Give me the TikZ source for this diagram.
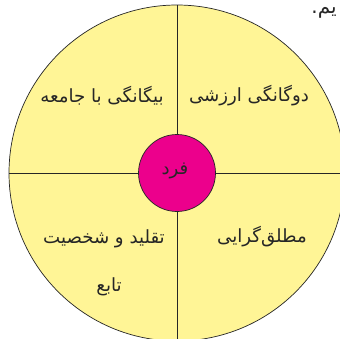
\documentclass[tikz,border=0pt]{standalone}
\usepackage{fontspec}
\newfontfamily\farsifont[Script=Arabic]{DejaVu Sans}
\TeXXeTstate=1
\usetikzlibrary{positioning}
\definecolor{wheelyellow}{RGB}{255,245,150}
\definecolor{coremagenta}{RGB}{236,0,140}
\tikzset{
	wheel/.style={circle, draw=black!85, fill=wheelyellow, line width=0.6pt},
	core/.style={circle, draw=black!85, fill=coremagenta, line width=0.6pt},
	spoke/.style={draw=black!85, line width=0.6pt},
	label/.style={font=\farsifont\fontsize{15.5}{19}\selectfont, text=black!85, inner sep=1pt}
}

\begin{document}
\begin{tikzpicture}[x=0.03cm,y=-0.03cm]
	\clip (0,0) rectangle (340,338);
	% Outer circle
	\coordinate (C) at (177,173);
	\draw[wheel] (C) circle[radius=168];
	% Spokes
	\coordinate (T) at (177,5);
	\coordinate (B) at (177,341);
	\coordinate (L) at (9,173);
	\coordinate (R) at (345,173);
	\draw[spoke] (T) -- (B);
	\draw[spoke] (L) -- (R);
	% Centre
	\node[core, minimum size=77*0.03cm, inner sep=0pt] (fard) at (C) {};
	\node[label] at (175,171) {\beginR فرد\endR};
	% Quarters
	\node[label] (q1) at (249,96) {\beginR دوگانگی ارزشی\endR};
	\node[label] (q2) at (102,96) {\beginR بیگانگی با جامعه\endR};
	\node[label] (q3) at (262,237) {\beginR مطلق‌گرایی\endR};
	\node[label] (q4) at (104,239) {\beginR تقلید و شخصیت\endR};
	\node[label] (q5) at (109,287) {\beginR تابع\endR};
	% Page text at the corner
	\node[label, font=\farsifont\fontsize{17}{20}\selectfont, anchor=north east] (top) at (338,6) {\beginR یم.\endR};
\end{tikzpicture}
\end{document}
